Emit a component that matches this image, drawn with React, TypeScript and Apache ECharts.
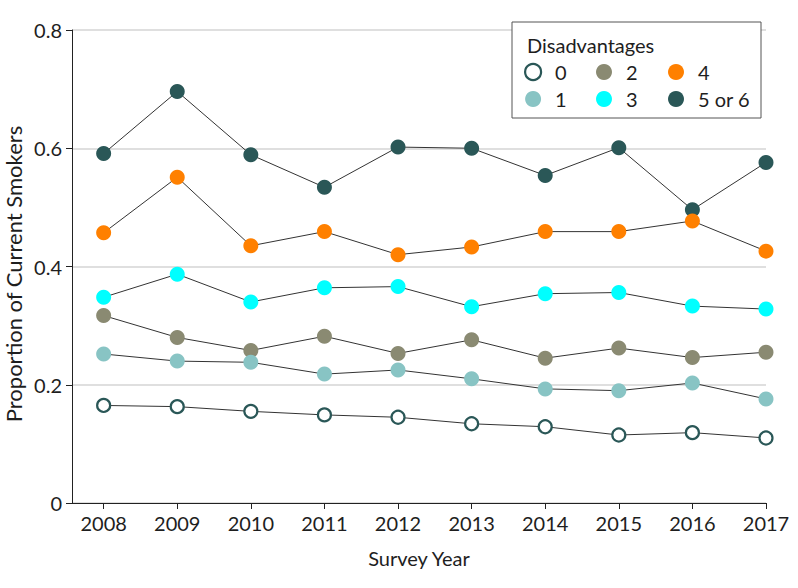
import React, { useEffect, useRef } from "react";
import * as echarts from "echarts";

const years = [2008, 2009, 2010, 2011, 2012, 2013, 2014, 2015, 2016, 2017];
const yTicks = [0, 0.2, 0.4, 0.6, 0.8];
const d0 = [0.165, 0.163, 0.155, 0.149, 0.145, 0.134, 0.129, 0.115, 0.119, 0.110];
const d1 = [0.252, 0.240, 0.238, 0.218, 0.225, 0.210, 0.193, 0.190, 0.203, 0.176];
const d2 = [0.317, 0.280, 0.258, 0.282, 0.253, 0.276, 0.245, 0.262, 0.246, 0.255];
const d3 = [0.348, 0.387, 0.340, 0.364, 0.366, 0.332, 0.354, 0.356, 0.333, 0.328];
const d4 = [0.457, 0.551, 0.435, 0.459, 0.420, 0.433, 0.459, 0.459, 0.477, 0.426];
const d56 = [0.591, 0.696, 0.589, 0.534, 0.602, 0.600, 0.554, 0.601, 0.496, 0.576];
const seriesNames = ["0", "1", "2", "3", "4", "5 or 6"];

const FONT = "Lato, 'Open Sans', sans-serif";
const DARK = "#2a5757";
const TXT = "#1e1e1e";

export default function App() {
  const ref = useRef<HTMLDivElement>(null);
  useEffect(() => {
    if (!ref.current) return;
    const chart = echarts.init(ref.current, undefined, { renderer: "svg" });
    const styles: Record<string, any> = {
      "0": { color: "#ffffff", borderColor: DARK, borderWidth: 2.2 },
      "1": { color: "#88c4c4" },
      "2": { color: "#8a8a72" },
      "3": { color: "#00ffff" },
      "4": { color: "#ff8000" },
      "5 or 6": { color: DARK },
    };
    const dataMap: Record<string, number[]> = {
      "0": d0, "1": d1, "2": d2, "3": d3, "4": d4, "5 or 6": d56,
    };
    const order = seriesNames.slice().reverse();
    const series = order.map((n) => ({
      name: n,
      type: "line",
      symbol: "circle",
      symbolSize: n === "0" ? 13 : 15,
      data: years.map((y, i) => [y, dataMap[n][i]]),
      lineStyle: { color: "#333333", width: 1 },
      itemStyle: styles[n],
      emphasis: { disabled: true },
    }));
    const legendItem = (n: string) => ({ name: n, icon: "circle", itemStyle: styles[n] });
    const legendBase = {
      orient: "vertical",
      top: 62,
      padding: 0,
      itemWidth: 16,
      itemHeight: 16,
      itemGap: 7,
      z: 10,
      selectedMode: false,
      textStyle: {
        fontFamily: FONT,
        fontSize: 20,
        lineHeight: 20,
        color: TXT,
        padding: [0, 0, 0, 9],
      },
    };
    chart.setOption({
      animation: false,
      grid: { left: 72, right: 32, top: 30, bottom: 85, outerBoundsMode: "none", containLabel: false },
      xAxis: {
        type: "value",
        min: 2007.57,
        max: 2017,
        name: "Survey Year",
        nameLocation: "middle",
        nameGap: 45,
        nameTextStyle: { fontFamily: FONT, fontSize: 20, color: TXT },
        axisLine: { lineStyle: { color: "#222", width: 1 } },
        axisTick: { show: true, customValues: years, length: 6, lineStyle: { color: "#222" } },
        axisLabel: {
          customValues: years,
          formatter: (v: number) => String(v),
          fontFamily: FONT,
          fontSize: 20,
          color: TXT,
          margin: 10,
        },
        splitLine: { show: false },
      },
      yAxis: {
        type: "value",
        min: 0,
        max: 0.8,
        interval: 0.2,
        axisLine: { show: true, lineStyle: { color: "#222", width: 1 } },
        axisTick: { show: true, length: 6, lineStyle: { color: "#222" } },
        axisLabel: {
          customValues: yTicks,
          formatter: (v: number) => (v === 0 ? "0" : v.toFixed(1)),
          fontFamily: FONT,
          fontSize: 20,
          color: TXT,
          margin: 10,
        },
        splitLine: { show: true, lineStyle: { color: "#d4d4d4", width: 1.5 } },
      },
      graphic: [
        {
          type: "rect",
          z: 5,
          shape: { x: 512, y: 22, width: 249, height: 96 },
          style: { fill: "#ffffff", stroke: "#555", lineWidth: 1 },
        },
        {
          type: "text",
          z: 6,
          x: 527,
          y: 45,
          style: {
            text: "Disadvantages",
            font: `20px ${FONT}`,
            fill: TXT,
            verticalAlign: "middle",
          },
        },
        {
          type: "text",
          z: 6,
          x: 13,
          y: 274,
          rotation: Math.PI / 2,
          style: {
            text: "Proportion of Current Smokers",
            font: `22px ${FONT}`,
            fill: TXT,
            align: "center",
            verticalAlign: "middle",
          },
        },
      ],
      legend: [
        { ...legendBase, left: 524, data: [legendItem("0"), legendItem("1")] },
        { ...legendBase, left: 596, data: [legendItem("2"), legendItem("3")] },
        { ...legendBase, left: 668, data: [legendItem("4"), legendItem("5 or 6")] },
      ],
      series,
    });
    return () => chart.dispose();
  }, []);
  return (
    <div
      ref={ref}
      style={{ position: "fixed", left: 0, top: 0, width: 798, height: 588, background: "#fff" }}
    />
  );
}
